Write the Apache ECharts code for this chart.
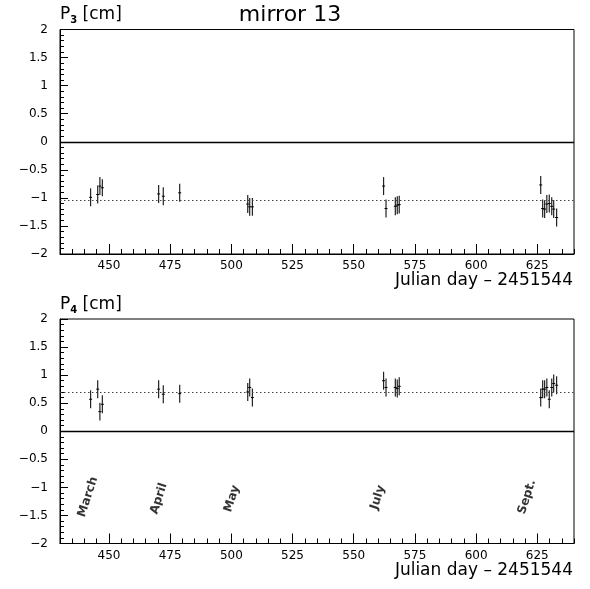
<!DOCTYPE html>
<html><head><meta charset="utf-8">
<script src="https://cdn.jsdelivr.net/npm/echarts@6/dist/echarts.min.js"></script>
<style>html,body{margin:0;padding:0;background:#fff}#c{width:590px;height:589px}</style>
</head><body><div id="c"></div>
<script>
// ---- data ----
const days  = [442.5, 445.4, 446.3, 447.3, 470.3, 472.2, 478.9, 506.7, 507.5, 508.6,
               562.2, 563.2, 567.0, 567.8, 568.6, 626.4, 627.2, 628.0, 628.9, 629.9, 630.9, 631.7, 632.9];
const p3    = [-0.99, -0.94, -0.79, -0.82, -0.93, -0.97, -0.91, -1.11, -1.16, -1.16,
               -0.79, -1.19, -1.15, -1.13, -1.12, -0.77, -1.19, -1.20, -1.11, -1.10, -1.15, -1.20, -1.35];
const p3err = [0.16, 0.16, 0.16, 0.15, 0.16, 0.16, 0.16, 0.16, 0.16, 0.16,
               0.16, 0.16, 0.16, 0.16, 0.16, 0.16, 0.16, 0.16, 0.16, 0.16, 0.16, 0.16, 0.16];
const p4    = [0.57, 0.75, 0.35, 0.48, 0.75, 0.66, 0.67, 0.70, 0.78, 0.60,
               0.90, 0.78, 0.78, 0.76, 0.80, 0.60, 0.75, 0.75, 0.78, 0.57, 0.78, 0.85, 0.82];
const p4err = [0.16, 0.16, 0.16, 0.16, 0.16, 0.16, 0.16, 0.16, 0.16, 0.16,
               0.16, 0.16, 0.16, 0.16, 0.16, 0.16, 0.16, 0.16, 0.16, 0.16, 0.16, 0.16, 0.16];
const p3Mean = -1.05;
const p4Mean = 0.69;
const monthNames = ['March', 'April', 'May', 'July', 'Sept.'];
const monthDays  = [441.4, 470.4, 500.3, 559.9, 620.8];
const monthVals  = [-1.17, -1.2, -1.2, -1.18, -1.17];
const xMajorTicks = [450, 475, 500, 525, 550, 575, 600, 625];
const titleText = 'mirror 13';
const xTitle = 'Julian day \u2013 2451544';

// ---- layout ----
const FONT = 'DejaVu Sans';
const L = 60, RGT = 16, GH = 224.5, T1 = 29.5, T2 = 319;

function errRender(params, api) {
  const x = api.value(0), y = api.value(1), e = api.value(2);
  const a = api.coord([x, y + e]), b = api.coord([x, y - e]), c = api.coord([x, y]);
  return {type: 'group', children: [
    {type: 'line', shape: {x1: a[0], y1: a[1], x2: b[0], y2: b[1]}, style: {stroke: '#222', lineWidth: 1.2}},
    {type: 'line', shape: {x1: c[0] - 1.5, y1: c[1], x2: c[0] + 1.5, y2: c[1]}, style: {stroke: '#000', lineWidth: 1}}
  ]};
}

function xAxesFor(g) {
  return [
    {gridIndex: g, type: 'value', position: 'bottom', min: 430, max: 640, interval: 5,
     axisLine: {show: true, onZero: false, lineStyle: {color: '#000', width: 1}},
     axisTick: {show: true, inside: true, length: 5, lineStyle: {color: '#000'}},
     axisLabel: {show: false}, splitLine: {show: false}},
    {gridIndex: g, type: 'value', position: 'bottom', offset: 0, min: 430, max: 640,
     axisLine: {show: false, onZero: false},
     axisTick: {show: true, inside: true, length: 10, customValues: xMajorTicks, lineStyle: {color: '#000'}},
     axisLabel: {show: true, customValues: xMajorTicks, fontSize: 12, fontFamily: FONT, color: '#000', margin: 6},
     splitLine: {show: false}}
  ];
}
function yAxisFor(g) {
  return {gridIndex: g, type: 'value', min: -2, max: 2, interval: 0.5,
    axisLine: {show: true, onZero: false, lineStyle: {color: '#000', width: 1}},
    axisTick: {show: true, inside: true, length: 8, lineStyle: {color: '#000'}},
    minorTick: {show: true, splitNumber: 5, length: 4, lineStyle: {color: '#000'}},
    axisLabel: {show: true, fontSize: 12, fontFamily: FONT, color: '#000', margin: 12,
      formatter: v => String(v).replace('-', '\u2212')},
    splitLine: {show: false}, minorSplitLine: {show: false}};
}
function errSeries(g, vals, errs, mean) {
  return {type: 'custom', xAxisIndex: g * 2, yAxisIndex: g, renderItem: errRender,
    encode: {x: 0, y: 1}, animation: false, silent: true,
    data: days.map((d, i) => [d, vals[i], errs[i]]),
    markLine: {silent: true, symbol: 'none', animation: false, label: {show: false},
      data: [
        {yAxis: 0, lineStyle: {type: 'solid', color: '#000', width: 1.3}},
        {yAxis: mean, lineStyle: {type: [1.5, 2.5], color: '#444', width: 1}}
      ]}};
}
const gridBase = {left: L, right: RGT, height: GH, show: true, borderColor: '#000', borderWidth: 1,
  backgroundColor: 'transparent', containLabel: false, outerBoundsMode: 'none'};

const sub = (s) => ({
  type: 'text', left: L, style: {
    text: '{p|P}{s|' + s + '}{p| [cm]}',
    rich: {p: {fontSize: 17, fontFamily: FONT, fill: '#000', color: '#000', lineHeight: 22, verticalAlign: 'middle'},
           s: {fontSize: 10, fontFamily: FONT, fontWeight: 'bold', fill: '#000', color: '#000', lineHeight: 10, verticalAlign: 'bottom'}}
  }});

const chart = echarts.init(document.getElementById('c'), null, {renderer: 'canvas'});
chart.setOption({
  animation: false,
  backgroundColor: '#fff',
  grid: [Object.assign({top: T1}, gridBase), Object.assign({top: T2}, gridBase)],
  xAxis: xAxesFor(0).concat(xAxesFor(1)),
  yAxis: [yAxisFor(0), yAxisFor(1)],
  series: [
    errSeries(0, p3, p3err, p3Mean),
    errSeries(1, p4, p4err, p4Mean),
    {type: 'scatter', xAxisIndex: 2, yAxisIndex: 1, symbolSize: 1, silent: true,
     itemStyle: {color: 'transparent'},
     data: monthNames.map((n, i) => ({name: n, value: [monthDays[i], monthVals[i]]})),
     label: {show: true, position: 'inside', rotate: 72, formatter: p => p.name,
       fontSize: 12, fontWeight: 'bold', fontFamily: FONT, color: '#000', align: 'center', verticalAlign: 'middle'}}
  ],
  graphic: [
    {type: 'text', x: 290, y: 15, style: {text: titleText, fontSize: 22, fontFamily: FONT, fill: '#000', align: 'center', verticalAlign: 'middle'}},
    Object.assign(sub('3'), {top: 6}),
    Object.assign(sub('4'), {top: 296}),
    {type: 'text', x: 573, y: 281, style: {text: xTitle, fontSize: 17, fontFamily: FONT, fill: '#000', align: 'right', verticalAlign: 'middle'}},
    {type: 'text', x: 573, y: 571, style: {text: xTitle, fontSize: 17, fontFamily: FONT, fill: '#000', align: 'right', verticalAlign: 'middle'}}
  ]
});
</script></body></html>
